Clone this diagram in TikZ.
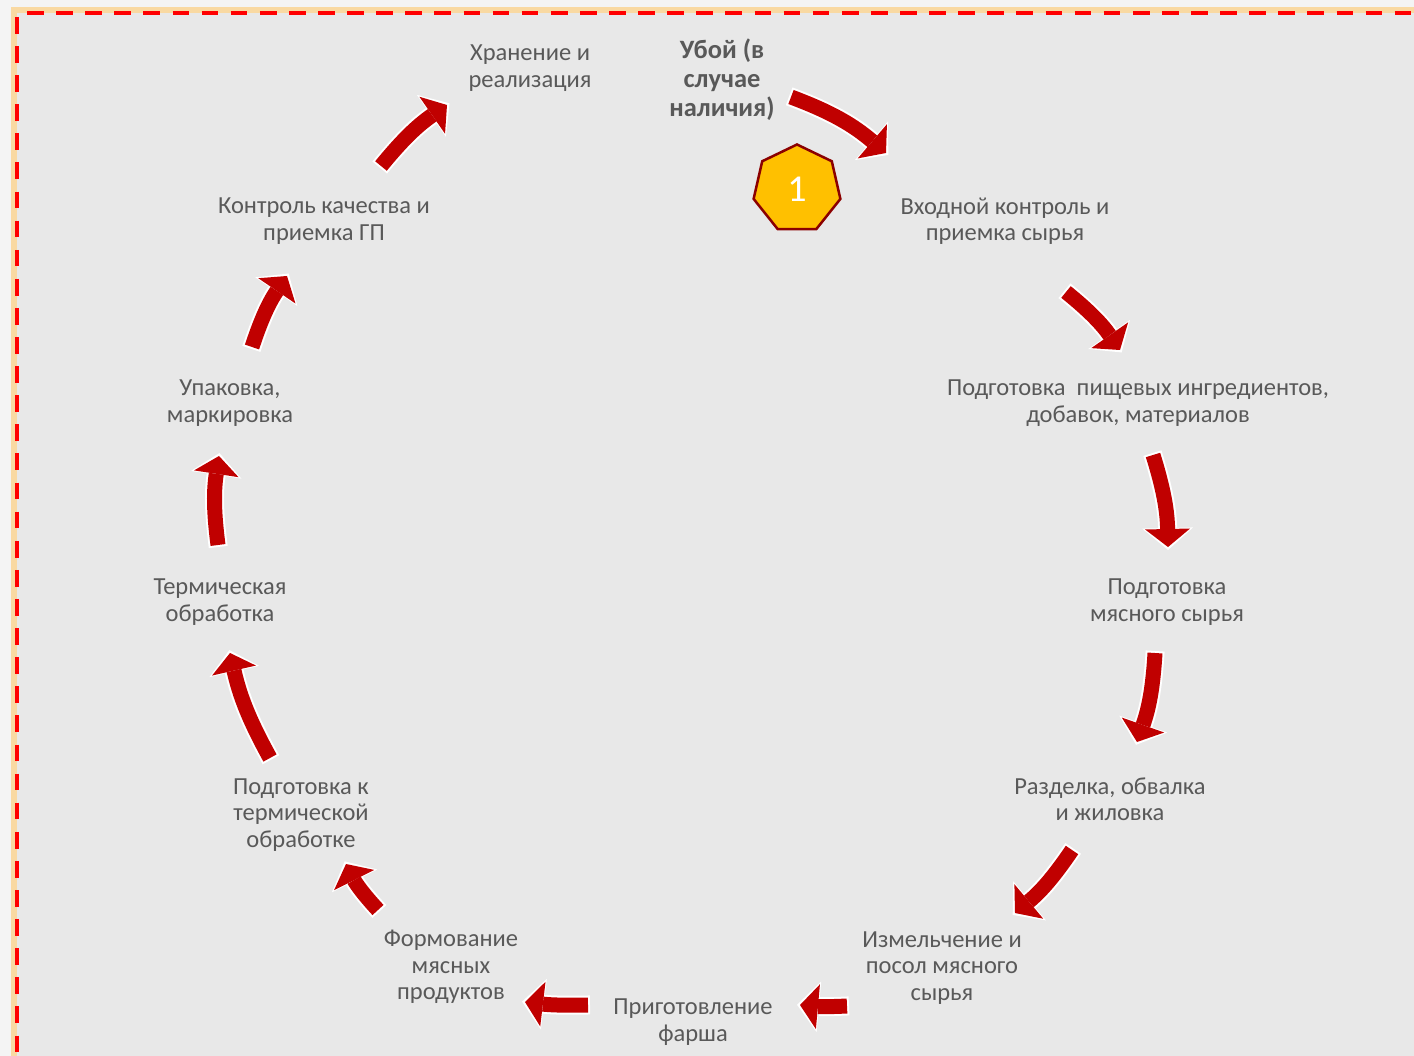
\documentclass[tikz,border=0pt]{standalone}
\usepackage{fontspec}
\setmainfont{Carlito}
\usetikzlibrary{arrows.meta,shapes.geometric}
\definecolor{txt}{HTML}{595959}
\definecolor{arr}{HTML}{C00000}
\definecolor{bgin}{HTML}{E8E8E8}
\definecolor{bgout}{HTML}{F4F4F4}
\definecolor{glow}{HTML}{F9D9A2}
\definecolor{hepfill}{HTML}{FFC000}
\definecolor{hepline}{HTML}{8B0000}
\newcommand{\cycarrow}[3][8]{%
  \draw[white, line width=19pt, shorten <=-2pt, shorten >=-3pt,
        -{Triangle[length=22pt,width=51pt,line width=0pt]}] (#2) to[bend left=#1] (#3);
  \draw[arr, line width=15pt,
        -{Triangle[length=18pt,width=45pt,line width=0pt]}] (#2) to[bend left=#1] (#3);}
\begin{document}
\begin{tikzpicture}[x=1pt,y=-1pt,
  lbl/.style={text=txt, align=center, inner sep=0pt,
              font=\fontsize{24.5}{26.5}\selectfont},
  lblbold/.style={lbl, font=\fontsize{26.5}{29}\selectfont\bfseries},
  hept/.style={regular polygon, regular polygon sides=7, minimum size=89pt,
               inner sep=0pt, fill=hepfill, draw=hepline, line width=2.5pt,
               text=white, font=\fontsize{38}{38}\selectfont},
  border/.style={red, line width=4pt, dash pattern=on 16.7pt off 12.4pt}]
\useasboundingbox (0,0) rectangle (1414,1056);
\fill[bgout] (0,0) rectangle (1414,1056);
\draw[glow, line width=6pt] (14,10) rectangle (1460,1080);
\fill[bgin] (17,13) rectangle (1460,1080);
\draw[border] (27,13) -- (1460,13);
\draw[border] (17,17) -- (17,1060);
\draw[border, red!45] (27,1057.5) -- (1460,1057.5);

% labels
\node[lblbold] (ubo) at (722,80) {Убой (в\\случае\\наличия)};
\node[lbl] (vhod) at (1005,221) {Входной контроль и\\приемка сырья};
\node[lbl] (ingr) at (1138,403) {Подготовка\ \ пищевых ингредиентов,\\добавок, материалов};
\node[lbl] (meat) at (1167,602) {Подготовка\\мясного сырья};
\node[lbl] (razd) at (1110,799) {Разделка, обвалка\\и жиловка};
\node[lbl] (izm) at (942,968) {Измельчение и\\посол мясного\\сырья};
\node[lbl] (farsh) at (693,1022) {Приготовление\\фарша};
\node[lbl] (form) at (451,967) {Формование\\мясных\\продуктов};
\node[lbl] (podterm) at (301,815) {Подготовка к\\термической\\обработке};
\node[lbl] (term) at (220,602) {Термическая\\обработка};
\node[lbl] (upak) at (230,403) {Упаковка,\\маркировка};
\node[lbl] (kontr) at (324,221) {Контроль качества и\\приемка ГП};
\node[lbl] (hran) at (530,68) {Хранение и\\реализация};
\node[hept] (num) at (797,189) {1};

% arrow end points
\coordinate (a1s) at (791,97);   \coordinate (a1e) at (886,153);
\coordinate (a2s) at (1066,292); \coordinate (a2e) at (1120,350);
\coordinate (a3s) at (1153,455); \coordinate (a3e) at (1168,547);
\coordinate (a4s) at (1155,653); \coordinate (a4e) at (1137,742);
\coordinate (a5s) at (1072,850); \coordinate (a5e) at (1015,913);
\coordinate (a6s) at (847,1006); \coordinate (a6e) at (800,1005);
\coordinate (a7s) at (588,1005); \coordinate (a7e) at (525,1002);
\coordinate (a8s) at (378,910);  \coordinate (a8e) at (346,864);
\coordinate (a9s) at (270,758);  \coordinate (a9e) at (230,653);
\coordinate (a10s) at (218,545); \coordinate (a10e) at (219,456);
\coordinate (a11s) at (252,347); \coordinate (a11e) at (287,276);
\coordinate (a12s) at (381,166); \coordinate (a12e) at (447,105);

\cycarrow[10]{a1s}{a1e}
\cycarrow{a2s}{a2e}
\cycarrow{a3s}{a3e}
\cycarrow{a4s}{a4e}
\cycarrow{a5s}{a5e}
\cycarrow[4]{a6s}{a6e}
\cycarrow[4]{a7s}{a7e}
\cycarrow{a8s}{a8e}
\cycarrow{a9s}{a9e}
\cycarrow{a10s}{a10e}
\cycarrow{a11s}{a11e}
\cycarrow{a12s}{a12e}
\end{tikzpicture}
\end{document}
